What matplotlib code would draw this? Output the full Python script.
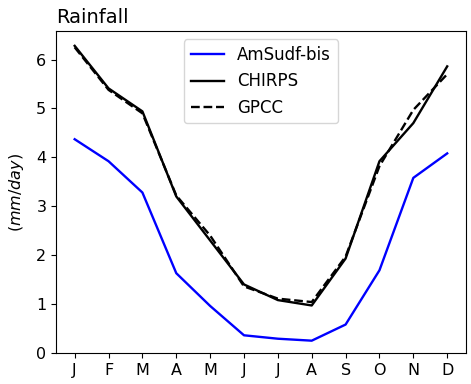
import numpy as np
import matplotlib
matplotlib.use("Agg")
import matplotlib.pyplot as plt

# Monthly climatology (mm/day)
months = ['J', 'F', 'M', 'A', 'M', 'J', 'J', 'A', 'S', 'O', 'N', 'D']
amsudf = [4.37, 3.92, 3.28, 1.63, 0.96, 0.36, 0.29, 0.25, 0.58, 1.69, 3.58, 4.08]
chirps = [6.28, 5.41, 4.94, 3.20, 2.30, 1.40, 1.08, 0.97, 1.93, 3.92, 4.70, 5.86]
gpcc = [6.25, 5.38, 4.90, 3.22, 2.40, 1.36, 1.11, 1.04, 1.97, 3.82, 4.97, 5.70]

x = np.arange(len(months))

fig, ax = plt.subplots(figsize=(4.71, 3.84), dpi=100)
ax.plot(x, amsudf, color='blue', lw=1.7, label='AmSudf-bis')
ax.plot(x, chirps, color='black', lw=1.7, label='CHIRPS')
ax.plot(x, gpcc, color='black', lw=1.7, ls='--', label='GPCC')

ax.set_xticks(x)
ax.set_xticklabels(months)
ax.tick_params(labelsize=11.5)
ax.set_ylim(bottom=0)
ax.set_ylabel('$(mm/day)$', fontsize=11.5, labelpad=7)
ax.set_title('Rainfall', loc='left', fontsize=14)
ax.legend(loc='upper center', fontsize=12)

plt.subplots_adjust(left=0.119, right=0.989, top=0.919, bottom=0.081)
plt.savefig('out.png')
